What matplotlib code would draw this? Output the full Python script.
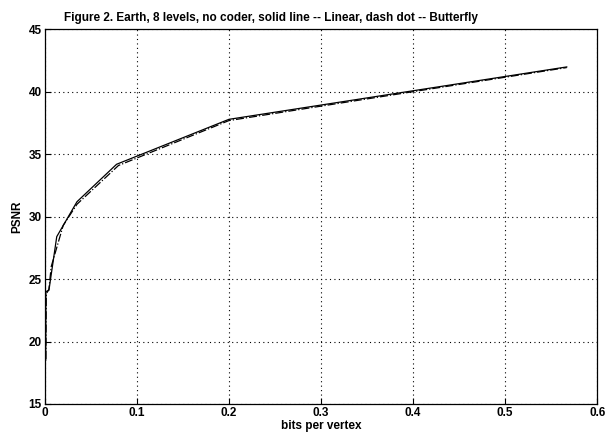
import matplotlib
matplotlib.use('Agg')
import matplotlib.pyplot as plt

plt.rcParams['font.family'] = ['Liberation Sans', 'DejaVu Sans']

# solid line -- Linear
linear_bpv = [0.0010, 0.0012, 0.0045, 0.0130, 0.0350, 0.0780, 0.2000, 0.5670]
linear_psnr = [18.5, 24.0, 24.1, 28.4, 31.2, 34.2, 37.8, 42.0]

# dash dot -- Butterfly
butterfly_bpv = [0.0012, 0.0016, 0.0045, 0.0070, 0.0200, 0.0350, 0.0800, 0.2000, 0.5670]
butterfly_psnr = [18.6, 23.8, 24.2, 26.0, 29.3, 31.0, 34.1, 37.7, 41.95]

x_ticks = [0, 0.1, 0.2, 0.3, 0.4, 0.5, 0.6]
y_ticks = [15, 20, 25, 30, 35, 40, 45]

fig = plt.figure(figsize=(6.05, 4.4), dpi=100)
ax = fig.add_axes([0.074, 0.082, 0.913, 0.851])

ax.plot(linear_bpv, linear_psnr, '-', color='black', linewidth=0.9)
ax.plot(butterfly_bpv, butterfly_psnr, '-.', color='black', linewidth=0.9)

ax.set_xlim(0, 0.6)
ax.set_ylim(15, 45)
ax.set_xticks(x_ticks)
ax.set_xticklabels(['0', '0.1', '0.2', '0.3', '0.4', '0.5', '0.6'])
ax.set_yticks(y_ticks)
ax.grid(True, linestyle=(0, (1, 3)), color='black', linewidth=0.8)
ax.tick_params(direction='in', length=4, labelsize=8.5, width=0.8, pad=2)
for lbl in ax.get_xticklabels() + ax.get_yticklabels():
    lbl.set_fontweight('bold')
for sp in ax.spines.values():
    sp.set_linewidth(0.9)

ax.set_xlabel('bits per vertex', fontsize=8.5, fontweight='bold', labelpad=1)
ax.set_ylabel('PSNR', fontsize=8.5, fontweight='bold', labelpad=4)
ax.set_title('Figure 2. Earth, 8 levels, no coder, solid line -- Linear, dash dot -- Butterfly',
             fontsize=8.5, fontweight='bold', pad=6, x=0.41)

fig.savefig('out.png', dpi=100)
